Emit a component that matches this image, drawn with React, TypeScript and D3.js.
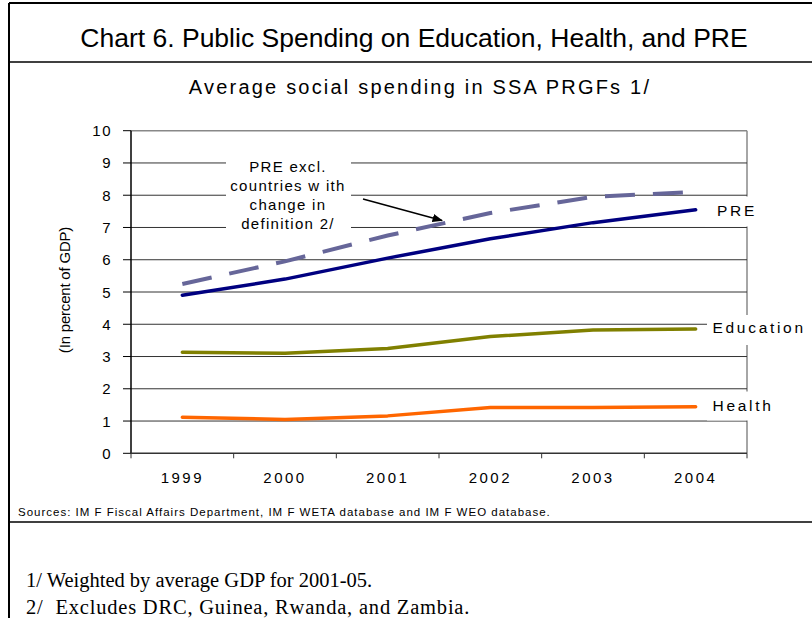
import React from "react";
import * as d3 from "d3";

const years = ["1999", "2000", "2001", "2002", "2003", "2004"];
const pre = [4.9, 5.4, 6.05, 6.65, 7.15, 7.55];
const preExcl = [5.25, 5.95, 6.75, 7.45, 7.95, 8.1];
const education = [3.13, 3.1, 3.25, 3.62, 3.82, 3.85];
const health = [1.12, 1.05, 1.16, 1.42, 1.42, 1.44];
const yTicks = [0, 1, 2, 3, 4, 5, 6, 7, 8, 9, 10];

const W = 812;
const H = 618;
const SANS = "'Liberation Sans', Arial, sans-serif";
const SERIF = "'Liberation Serif', 'Times New Roman', serif";

export default function App() {
  const left = 131;
  const right = 747;
  const top = 130.7;
  const bottom = 453.3;

  const x = d3.scaleBand<string>().domain(years).range([left, right]).padding(0);
  const bw = x.bandwidth();
  const cx = (yr: string) => (x(yr) as number) + bw / 2;
  const y = d3.scaleLinear().domain([0, 10]).range([bottom, top]);

  const line = d3
    .line<number>()
    .x((_, i) => cx(years[i]))
    .y((d) => y(d));

  const gridColor = "#333";
  const boxColor = "#888";

  return (
    <svg
      width={W}
      height={H}
      style={{ position: "absolute", left: 0, top: 0, background: "#fff" }}
    >
      <rect x={0} y={0} width={W} height={H} fill="#fff" />
      {/* outer frame */}
      <line x1={9} x2={9} y1={3} y2={H} stroke="#000" strokeWidth={2} />
      <line x1={9} x2={W} y1={3} y2={3} stroke="#000" strokeWidth={2} />
      <line x1={9} x2={W} y1={62} y2={62} stroke="#000" strokeWidth={1.5} />
      <line x1={9} x2={W} y1={522} y2={522} stroke="#000" strokeWidth={1.5} />

      <text
        x={414}
        y={38}
        textAnchor="middle"
        dominantBaseline="central"
        fontFamily={SANS}
        fontSize={26.5}
        fill="#000"
      >
        Chart 6. Public Spending on Education, Health, and PRE
      </text>
      <text
        x={420}
        y={87}
        textAnchor="middle"
        dominantBaseline="central"
        fontFamily={SANS}
        fontSize={20}
        letterSpacing={2.2}
        fill="#000"
      >
        Average social spending in SSA PRGFs 1/
      </text>

      {/* plot border top & right */}
      <line x1={left} x2={right} y1={top} y2={top} stroke={boxColor} strokeWidth={1.5} />
      <line x1={right} x2={right} y1={top} y2={bottom} stroke={boxColor} strokeWidth={1.5} />

      {/* gridlines */}
      {yTicks
        .filter((t) => t > 0 && t < 10)
        .map((t) => (
          <line
            key={t}
            x1={left}
            x2={right}
            y1={y(t)}
            y2={y(t)}
            stroke={gridColor}
            strokeWidth={1}
          />
        ))}

      {/* white label backgrounds */}
      <rect x={226} y={146} width={125} height={88} fill="#fff" />
      <rect x={705} y={196.5} width={107} height={30} fill="#fff" />
      <rect x={707} y={315} width={105} height={30} fill="#fff" />
      <rect x={707} y={391.5} width={105} height={29} fill="#fff" />

      {/* axes */}
      <line x1={left} x2={left} y1={top} y2={bottom} stroke="#000" strokeWidth={1.5} />
      <line x1={left} x2={right} y1={bottom} y2={bottom} stroke="#333" strokeWidth={1.5} />
      {yTicks.map((t) => (
        <g key={t}>
          <line x1={left - 8} x2={left} y1={y(t)} y2={y(t)} stroke="#000" strokeWidth={1} />
          <text
            x={112}
            y={y(t)}
            textAnchor="end"
            dominantBaseline="central"
            fontFamily={SANS}
            fontSize={15}
            letterSpacing={1.5}
            fill="#000"
          >
            {t}
          </text>
        </g>
      ))}
      {[...years.map((yr) => x(yr) as number), right].map((px, i) => (
        <line key={i} x1={px} x2={px} y1={bottom} y2={bottom + 5} stroke="#333" strokeWidth={1} />
      ))}
      {years.map((yr) => (
        <text
          key={yr}
          x={cx(yr)}
          y={477}
          textAnchor="middle"
          dominantBaseline="central"
          fontFamily={SANS}
          fontSize={15}
          letterSpacing={2.5}
          fill="#000"
        >
          {yr}
        </text>
      ))}

      <text
        transform="translate(70,290) rotate(-90)"
        textAnchor="middle"
        fontFamily={SANS}
        fontSize={15}
        letterSpacing={-0.2}
        fill="#000"
      >
        (In percent of GDP)
      </text>

      {/* series */}
      <path d={line(health) || ""} fill="none" stroke="#FF6600" strokeWidth={3.5} strokeLinecap="round" strokeLinejoin="round" />
      <path d={line(education) || ""} fill="none" stroke="#808000" strokeWidth={3.5} strokeLinecap="round" strokeLinejoin="round" />
      <path d={line(preExcl) || ""} fill="none" stroke="#666699" strokeWidth={4} strokeDasharray="30 18" />
      <path d={line(pre) || ""} fill="none" stroke="#000080" strokeWidth={3.5} strokeLinecap="round" strokeLinejoin="round" />

      {/* annotation */}
      <defs>
        <marker id="arr" viewBox="0 0 10 10" refX={9} refY={5} markerWidth={7} markerHeight={7} orient="auto">
          <path d="M0,1 L10,5 L0,9 z" fill="#000" />
        </marker>
      </defs>
      <line x1={363} y1={199} x2={442} y2={220.5} stroke="#000" strokeWidth={1.5} markerEnd="url(#arr)" />
      {["PRE excl.", "countries w ith", "change in", "definition 2/"].map((s, i) => (
        <text
          key={i}
          x={288}
          y={166.5 + i * 19}
          textAnchor="middle"
          dominantBaseline="central"
          fontFamily={SANS}
          fontSize={15}
          letterSpacing={1.3}
          fill="#000"
        >
          {s}
        </text>
      ))}

      {[
        { t: "PRE", yy: 210, xx: 717 },
        { t: "Education", yy: 327.5, xx: 712.5 },
        { t: "Health", yy: 405, xx: 712.5 },
      ].map((l) => (
        <text
          key={l.t}
          x={l.xx}
          y={l.yy}
          dominantBaseline="central"
          fontFamily={SANS}
          fontSize={15.5}
          letterSpacing={2.7}
          fill="#000"
        >
          {l.t}
        </text>
      ))}

      <text
        x={18}
        y={512}
        dominantBaseline="central"
        fontFamily={SANS}
        fontSize={11.5}
        letterSpacing={1}
        fill="#000"
      >
        Sources: IM F Fiscal Affairs Department, IM F WETA database and IM F WEO database.
      </text>

      <text x={26} y={580} dominantBaseline="central" fontFamily={SERIF} fontSize={20.5} fill="#000">
        1/ Weighted by average GDP for 2001-05.
      </text>
      <text x={26} y={607} dominantBaseline="central" fontFamily={SERIF} fontSize={20.5} letterSpacing={0.8} fill="#000" style={{ whiteSpace: "pre" }}>
        {"2/  Excludes DRC, Guinea, Rwanda, and Zambia."}
      </text>
    </svg>
  );
}
